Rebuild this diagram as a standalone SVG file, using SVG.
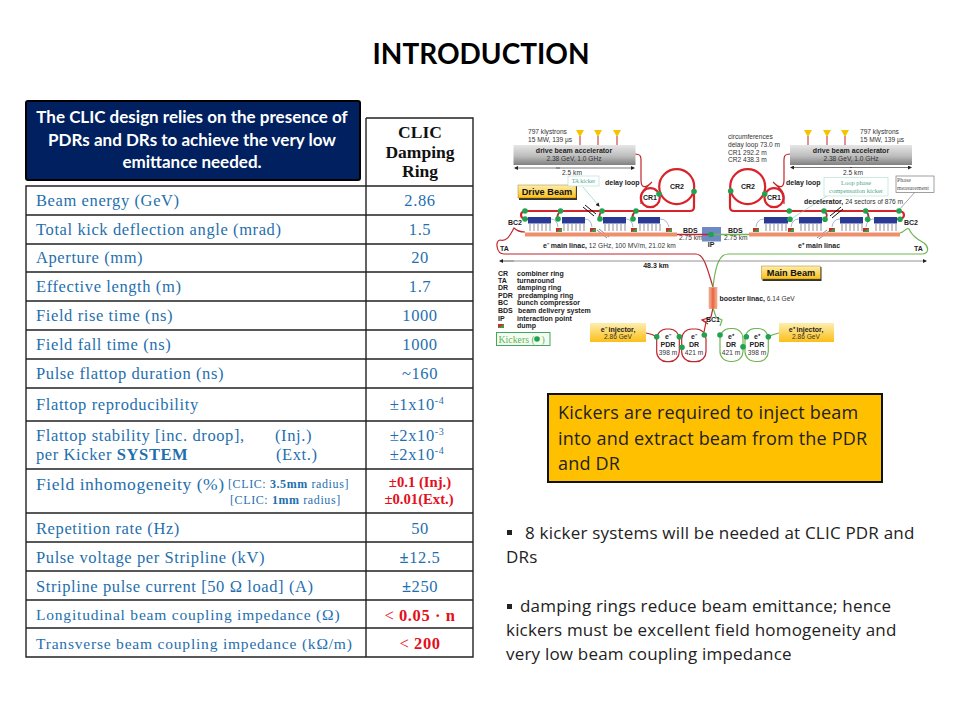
<svg xmlns="http://www.w3.org/2000/svg" width="960" height="720" viewBox="0 0 960 720" style="font-family:'Liberation Sans',Arial,sans-serif">
<style>
.t{font-family:"Liberation Serif","Times New Roman",serif;font-size:16.5px;fill:#1f6fae;letter-spacing:.6px}
.s{font-size:15.5px;letter-spacing:.8px}
.m{font-size:12px;letter-spacing:.6px}
.c{text-anchor:middle}
.r{fill:#e3101c}
.rb{font-size:14.7px;letter-spacing:0;font-weight:bold;fill:#e3101c}
.g{stroke:#222;stroke-width:1.4;fill:none}
.o{font-family:"Open Sans",sans-serif;font-size:17px;letter-spacing:.2px;fill:#222}
.ob{font-size:18px;letter-spacing:.2px}
.d{font-size:6.6px;fill:#333}
.db{font-size:7px;font-weight:bold;fill:#222}
.rl{fill:none;stroke:#c0272d;stroke-width:1.2}
.rt{fill:none;stroke:#d8232a;stroke-width:2.2}
.gl{fill:none;stroke:#6fb552;stroke-width:1.2}
.k{fill:#1fa34f}
.bl{fill:#2a3a94}
.bar{fill:#f08f6e}
.dr{fill:#cf2a27}
.dg{fill:#3f9a4a}
.ar{stroke:#222;stroke-width:.6;fill:none;marker-end:url(#a)}
.tk{stroke:#222;stroke-width:.5;fill:none}
.th{stroke:#5a6ab0;stroke-width:.5;fill:none}
.sl{stroke:#111;stroke-width:1}
.an{fill:#f5c400}
.st{stroke:#c0272d;stroke-width:1}
.lab{font-family:Lato,sans-serif;font-weight:bold}
.se{font-family:"Liberation Serif",serif}
</style>
<defs>
<marker id="a" markerWidth="4" markerHeight="4" refX="3" refY="2" orient="auto" markerUnits="userSpaceOnUse"><path d="M0 0L4 2L0 4Z" fill="#222"/></marker>
<linearGradient id="gr" x1="0" y1="0" x2="0" y2="1"><stop offset="0" stop-color="#e6e6e6"/><stop offset=".55" stop-color="#bdbdbd"/><stop offset="1" stop-color="#808080"/></linearGradient>
<linearGradient id="ye" x1="0" y1="0" x2="0" y2="1"><stop offset="0" stop-color="#fdeeb0"/><stop offset="1" stop-color="#fbbf17"/></linearGradient>
<linearGradient id="bo" x1="0" y1="0" x2="1" y2="0"><stop offset="0" stop-color="#f7b9a0"/><stop offset=".5" stop-color="#e8633f"/><stop offset="1" stop-color="#f7b9a0"/></linearGradient>
</defs>
<rect width="960" height="720" fill="#fff"/>
<text id="title" class="lab" x="481" y="64" text-anchor="middle" font-size="28" fill="#000">INTRODUCTION</text>

<g id="table">
<path class="g" d="M366 118H473V657H26V186H473M366 118V657M26 215H473M26 244H473M26 272H473M26 301H473M26 330H473M26 359H473M26 388H473M26 421H473M26 469H473M26 513H473M26 542H473M26 571H473M26 600H473M26 628H473"/>
<g class="se" font-weight="bold" font-size="17.500" fill="#111" text-anchor="middle">
<text x="420" y="138">CLIC</text><text x="420" y="158">Damping</text><text x="420" y="177">Ring</text></g>
<text class="t" x="36" y="206">Beam energy (GeV)</text><text class="t c" x="420" y="206">2.86</text>
<text class="t" x="36" y="235">Total kick deflection angle (mrad)</text><text class="t c" x="420" y="235">1.5</text>
<text class="t" x="36" y="263">Aperture (mm)</text><text class="t c" x="420" y="263">20</text>
<text class="t" x="36" y="292">Effective length (m)</text><text class="t c" x="420" y="292">1.7</text>
<text class="t" x="36" y="321">Field rise time (ns)</text><text class="t c" x="420" y="321">1000</text>
<text class="t" x="36" y="350">Field fall time (ns)</text><text class="t c" x="420" y="350">1000</text>
<text class="t" x="36" y="379">Pulse flattop duration (ns)</text><text class="t c" x="420" y="379">~160</text>
<text class="t" x="36" y="410">Flattop reproducibility</text>
<text class="t c" x="417" y="410">±1x10<tspan font-size="10" dy="-6">-4</tspan></text>
<text class="t" x="36" y="441">Flattop stability [inc. droop],</text><text class="t" x="275" y="441">(Inj.)</text>
<text class="t" x="36" y="460">per Kicker <tspan font-weight="bold">SYSTEM</tspan></text><text class="t" x="276" y="460">(Ext.)</text>
<text class="t c" x="417" y="441">±2x10<tspan font-size="10" dy="-6">-3</tspan></text>
<text class="t c" x="417" y="460">±2x10<tspan font-size="10" dy="-6">-4</tspan></text>
<text class="t" x="36" y="490" style="font-size:17.500px;letter-spacing:.55px">Field inhomogeneity (%)</text>
<text class="t m" x="228" y="488">[CLIC: <tspan font-weight="bold">3.5mm</tspan> radius]</text>
<text class="t m" x="230" y="504">[CLIC: <tspan font-weight="bold">1mm</tspan> radius]</text>
<text class="se c rb" x="420" y="487">±0.1 (Inj.)</text>
<text class="se c rb" x="419" y="504">±0.01(Ext.)</text>
<text class="t" x="36" y="534">Repetition rate (Hz)</text><text class="t c" x="420" y="534">50</text>
<text class="t" x="36" y="563">Pulse voltage per Stripline (kV)</text><text class="t c" x="420" y="563"><tspan font-weight="bold">±</tspan>12.5</text>
<text class="t" x="36" y="592">Stripline pulse current [50 Ω load] (A)</text><text class="t c" x="420" y="592"><tspan font-weight="bold">±</tspan>250</text>
<text class="t s" x="36" y="620">Longitudinal beam coupling impedance (Ω)</text>
<text class="t c r" x="420" y="621">&lt; <tspan font-weight="bold">0.05 · n</tspan></text>
<text class="t s" x="36" y="649">Transverse beam coupling impedance (kΩ/m)</text>
<text class="t c r" x="420" y="649">&lt; <tspan font-weight="bold">200</tspan></text>
</g>

<g id="callout">
<rect x="26" y="101" width="334" height="79" rx="2" fill="#002060" stroke="#000" stroke-width="2"/>
<g class="lab" font-size="17" fill="#fff" text-anchor="middle">
<text x="192" y="123">The CLIC design relies on the presence of</text>
<text x="192" y="146">PDRs and DRs to achieve the very low</text>
<text x="192" y="168">emittance needed.</text></g>
</g>

<g id="connectors">
<path class="rl" d="M635 154C642 154 641 158 641 165V180C641 188 645 189 652 182C645 189 641 191 641 197V204"/>
<path class="rl" d="M790 154C783 154 784 158 784 165V180C784 188 780 189 773 182C780 189 784 191 784 197V204"/>
<path class="rt" d="M694 192V207Q694 211 690 211H527Q521 211 521 215Q521 219 527 219H533"/>
<path class="rt" d="M730 192V207Q730 211 734 211H897Q904 211 904 215Q904 219 898 219H892"/>
<path class="rl" style="stroke-width:1.800" d="M560.500 211Q556 215 558 219M602 211Q598 215 600 219M636 211Q631 215 633 219M824 211Q829 215 825 219M865.700 211Q870 215 867.700 219"/>
<path class="th" d="M551 219Q557 219 558 227M585 219Q591 219 592 227M626 219Q632 219 633 227M660 219Q667 219 669 227M764 219Q757 219 756 227M799 219Q792 219 791 227M840 219Q833 219 832 227M874 219Q867 219 866 227"/>
<path class="rl" d="M525 232C518 232 516 230 514 228C511 233 508 242 500 240C495 240 496 254 504 254H696C704 254 707 268 713 287"/>
<path class="gl" d="M900 233C905 232 906 227 909 229C912 236 918 240 924 243C930 248 928 254 922 254H728C718 254 715 270 713 287"/>
<path class="rl" d="M713 308L711 317L702 320L708 324"/>
<path class="gl" d="M713 308L716 317L722 320L720 326"/>
<path class="rl" d="M702 320L706 322L704 332"/>
<path d="M500 261H926" stroke="#777" stroke-width=".8" marker-end="url(#a)"/>
<path d="M514 261H500" stroke="#777" stroke-width=".8" marker-end="url(#a)"/>
<path class="ar" d="M583 187L599 206" style="stroke:#7cc6b0"/>
<path class="ar" d="M556 168H634"/><path class="ar" d="M560 168H515"/>
<path class="ar" d="M850 167.500H911"/><path class="ar" d="M852 167.500H791"/>
<path d="M791 219L830 194" stroke="#7cc6b0" stroke-width=".6"/>
<path d="M899 210L915 192" stroke="#666" stroke-width=".6"/>
<path class="sl" d="M583 207L594 216M585 205L596 214M830 216L841 207M832 218L843 209"/>
<path class="sl" style="stroke-width:.5" d="M597 230L607 238M599 229L609 237M817 238L827 230M819 239L829 231"/>
<path class="rl" d="M646 333C652 334 654 335 657 337"/>
<path class="gl" d="M779 333C775 334 771 335 768 337"/>
</g>

<g id="drive-left">
<rect x="513.500" y="145" width="122" height="20" fill="url(#gr)"/>
<path class="st" d="M580 136V145M598 136V145M617 136V145"/>
<path class="an" d="M576 130H584L580 137ZM594 130H602L598 137ZM613 130H621L617 137Z"/>
<text class="d" x="528" y="134">797 klystrons</text><text class="d" x="528" y="142">15 MW, 139 µs</text>
<text class="db c" x="574" y="153">drive beam accelerator</text><text class="d c" x="574" y="161">2.38 GeV, 1.0 GHz</text>
<text class="d c" x="572" y="175">2.5 km</text>
<text class="db" x="605" y="185">delay loop</text>
<circle class="rt" cx="676.700" cy="186.700" r="17.500"/><circle class="rt" cx="650.300" cy="197.700" r="9.500"/>
<text class="db c" x="677" y="189">CR2</text><text class="db c" x="650" y="200">CR1</text>
<rect x="519" y="186" width="58" height="14" fill="#333"/><rect x="518" y="185" width="58" height="13" fill="url(#ye)" stroke="#8a6d10" stroke-width=".4"/>
<text x="547" y="195" text-anchor="middle" font-size="9.200" font-weight="bold" fill="#111">Drive Beam</text>
<rect x="568" y="176" width="31" height="10" fill="#fff" stroke="#a8dccb" stroke-width=".6"/>
<text class="se" x="583.500" y="183" text-anchor="middle" font-size="6" fill="#4fa88c">TA kicker</text>
<path class="bl" d="M528 217h23v6.500h-23zM562 217h23v6.500h-23zM603 217h23v6.500h-23zM638 217h22v6.500h-22z"/>
<path class="tk" d="M530 224v7M534 224v7M538 224v7M542 224v7M546 224v7M550 224v7M564 224v7M568 224v7M572 224v7M576 224v7M580 224v7M584 224v7M605 224v7M609 224v7M613 224v7M617 224v7M621 224v7M625 224v7M640 224v7M644 224v7M648 224v7M652 224v7M656 224v7M660 224v7"/>
<path class="dr" d="M556 228h6v4h-6zM590 228h6v4h-6zM631 228h6v4h-6zM666 228h6v4h-6z"/>
<path class="dg" d="M562 228v4h-6zM596 228v4h-6zM637 228v4h-6zM672 228v4h-6z"/>
<rect class="bar" x="525" y="232.500" width="152" height="4"/>
<g class="k"><circle cx="525" cy="211" r="2.800"/><circle cx="525" cy="219" r="2.800"/><circle cx="560.500" cy="211" r="2.800"/><circle cx="558" cy="219" r="2.800"/><circle cx="602" cy="211" r="2.800"/><circle cx="600" cy="219" r="2.800"/><circle cx="636" cy="211" r="2.800"/><circle cx="633" cy="219" r="2.800"/><circle cx="659" cy="194" r="2.800"/><circle cx="694" cy="191.500" r="2.800"/></g>
<text class="db" x="508" y="225">BC2</text><text class="db" x="683" y="233">BDS</text><text class="d" x="679" y="240">2.75 km</text>
</g>

<g id="ip">
<rect x="702" y="227" width="19" height="14.500" fill="#6f89c4"/>
<path d="M677 234.500H711" stroke="#c0272d" stroke-width="1.500"/><path d="M711 234.500H749" stroke="#6fb552" stroke-width="1.500"/>
<circle class="k" cx="711" cy="234.500" r="2.800"/>
<text class="db c" x="711" y="247">IP</text>
</g>

<g id="drive-right">
<rect x="790" y="145" width="122" height="20" fill="url(#gr)"/>
<path class="st" d="M808 136V145M827 136V145M845 136V145"/>
<path class="an" d="M804 130H812L808 137ZM823 130H831L827 137ZM841 130H849L845 137Z"/>
<text class="d" x="860" y="134">797 klystrons</text><text class="d" x="860" y="142">15 MW, 139 µs</text>
<text class="d" x="728" y="139">circumferences</text><text class="d" x="728" y="147">delay loop 73.0 m</text><text class="d" x="728" y="154.500">CR1 292.2 m</text><text class="d" x="728" y="162">CR2 438.3 m</text>
<text class="db c" x="851" y="153">drive beam accelerator</text><text class="d c" x="851" y="161">2.38 GeV, 1.0 GHz</text>
<text class="d c" x="853" y="175">2.5 km</text>
<text class="db" x="786" y="184.500">delay loop</text>
<circle class="rt" cx="747.700" cy="186.700" r="17.500"/><circle class="rt" cx="774" cy="197.700" r="9.500"/>
<text class="db c" x="748" y="189">CR2</text><text class="db c" x="774" y="200">CR1</text>
<rect x="824" y="177.500" width="64" height="18.500" fill="#fff" stroke="#a8dccb" stroke-width=".6"/>
<g class="se" text-anchor="middle" font-size="6.500" fill="#4fa88c"><text x="856" y="185">Loop phase</text><text x="856" y="193">compensation kicker</text></g>
<rect x="896" y="176" width="38" height="16.500" fill="#fff" stroke="#777" stroke-width=".7"/>
<g class="se" font-size="6" fill="#555"><text x="897" y="182">Phase</text><text x="897" y="190">measurement</text></g>
<text class="d" x="804" y="203.500"><tspan class="db">decelerator,</tspan> 24 sectors of 876 m</text>
<path class="bl" d="M764 217h24v6.500h-24zM799 217h23v6.500h-23zM840 217h23v6.500h-23zM874 217h23v6.500h-23z"/>
<path class="tk" d="M766 224v7M770 224v7M774 224v7M778 224v7M782 224v7M786 224v7M801 224v7M805 224v7M809 224v7M813 224v7M817 224v7M821 224v7M842 224v7M846 224v7M850 224v7M854 224v7M858 224v7M862 224v7M876 224v7M880 224v7M884 224v7M888 224v7M892 224v7M896 224v7"/>
<path class="dr" d="M753 228h6v4h-6zM788 228h6v4h-6zM829 228h6v4h-6zM863 228h6v4h-6z"/>
<path class="dg" d="M759 228v4h-6zM794 228v4h-6zM835 228v4h-6zM869 228v4h-6z"/>
<rect class="bar" x="749" y="232.500" width="151" height="4"/>
<g class="k"><circle cx="730.700" cy="191" r="2.800"/><circle cx="764.700" cy="194" r="2.800"/><circle cx="789.300" cy="211" r="2.800"/><circle cx="790" cy="219.300" r="2.800"/><circle cx="824" cy="211" r="2.800"/><circle cx="825" cy="219.300" r="2.800"/><circle cx="865.700" cy="211" r="2.800"/><circle cx="867.700" cy="219.300" r="2.800"/><circle cx="899" cy="211" r="2.800"/><circle cx="900" cy="219.300" r="2.800"/></g>
<text class="db" x="904" y="225">BC2</text><text class="db" x="728" y="233">BDS</text><text class="d" x="724" y="240">2.75 km</text>
</g>

<g id="main-beam">
<text class="db" x="500" y="250.500">TA</text><text class="db" x="914" y="250.500">TA</text>
<text class="d" x="543" y="248"><tspan class="db">e⁻ main linac,</tspan> 12 GHz, 100 MV/m, 21.02 km</text>
<text class="db" x="798" y="248">e⁺ main linac</text>
<text class="db c" x="656" y="268">48.3 km</text>
<rect x="762.500" y="267" width="59" height="14" fill="#333"/><rect x="761.500" y="266" width="59" height="13" fill="url(#ye)" stroke="#8a6d10" stroke-width=".4"/>
<text x="791" y="276" text-anchor="middle" font-size="9.200" font-weight="bold" fill="#111">Main Beam</text>
<rect x="709" y="287.500" width="8" height="21" fill="url(#bo)" stroke="#d9764f" stroke-width=".4"/>
<text class="d" x="719.500" y="301"><tspan class="db">booster linac,</tspan> 6.14 GeV</text>
<text class="db c" x="713" y="322">BC1</text>
<rect x="590" y="323" width="56" height="19" fill="url(#ye)"/>
<text class="db c" x="618" y="331.500">e⁻ injector,</text><text class="d c" x="618" y="339">2.86 GeV</text>
<rect x="779" y="323" width="55" height="19" fill="url(#ye)"/>
<text class="db c" x="806" y="331.500">e⁺ injector,</text><text class="d c" x="806" y="339">2.86 GeV</text>
<rect class="rl" x="656.700" y="329" width="22.600" height="32.700" rx="10"/>
<rect class="rl" x="681.700" y="329" width="24.300" height="32.700" rx="10"/>
<rect class="gl" x="720" y="328.500" width="23" height="33" rx="10"/>
<rect class="gl" x="745" y="328.500" width="23.300" height="33" rx="10"/>
<g text-anchor="middle">
<text class="db" x="668" y="339">e⁻</text><text class="db" x="668" y="347">PDR</text><text class="d" x="668" y="355">398 m</text>
<text class="db" x="694" y="339">e⁻</text><text class="db" x="694" y="347">DR</text><text class="d" x="694" y="355">421 m</text>
<text class="db" x="731" y="339">e⁺</text><text class="db" x="731" y="347">DR</text><text class="d" x="731" y="355">421 m</text>
<text class="db" x="757" y="339">e⁺</text><text class="db" x="757" y="347">PDR</text><text class="d" x="757" y="355">398 m</text>
</g>
<g class="k"><circle cx="656.700" cy="336.700" r="2.800"/><circle cx="679.300" cy="336.700" r="2.800"/><circle cx="682" cy="347.300" r="2.800"/><circle cx="704.300" cy="335" r="2.800"/><circle cx="720" cy="335" r="2.800"/><circle cx="746.300" cy="336.700" r="2.800"/><circle cx="743" cy="346.700" r="2.800"/><circle cx="768.300" cy="336.700" r="2.800"/></g>
</g>

<g id="legend">
<g class="db"><text x="498" y="275.500">CR</text><text x="498" y="283">TA</text><text x="498" y="290">DR</text><text x="498" y="297.500">PDR</text><text x="498" y="305">BC</text><text x="498" y="313">BDS</text><text x="498" y="320.500">IP</text>
<text x="517" y="275.500">combiner ring</text><text x="517" y="283">turnaround</text><text x="517" y="290">damping ring</text><text x="518" y="297.500">predamping ring</text><text x="517" y="305">bunch compressor</text><text x="518" y="313">beam delivery system</text><text x="517" y="320.500">interaction point</text><text x="517" y="328">dump</text></g>
<rect class="dr" x="498" y="324" width="6" height="4"/><path class="dg" d="M504 324v4h-6z"/>
<rect x="496.500" y="332.500" width="53.500" height="13" fill="#f6fbf2" stroke="#3fa862" stroke-width="1"/>
<g class="se" font-size="9.800" fill="#5cb85c"><text x="498.500" y="342.500">Kickers (</text><text x="541.500" y="342.500">)</text></g>
<circle class="k" cx="537" cy="339" r="2.800"/>
</g>

<g id="kicker-note">
<rect x="548" y="394" width="334" height="88" fill="#ffc000" stroke="#111" stroke-width="2"/>
<text class="o ob" x="558" y="419">Kickers are required to inject beam</text>
<text class="o ob" x="558" y="445">into and extract beam from the PDR</text>
<text class="o ob" x="558" y="470">and DR</text>
</g>

<g id="bullets">
<rect x="507" y="530" width="5" height="5" fill="#222"/>
<text class="o" x="525" y="539">8 kicker systems will be needed at CLIC PDR and</text>
<text class="o" x="506" y="563">DRs</text>
<rect x="507" y="604" width="5" height="5" fill="#222"/>
<text class="o" x="520" y="612">damping rings reduce beam emittance; hence</text>
<text class="o" x="506" y="636">kickers must be excellent field homogeneity and</text>
<text class="o" x="506" y="660">very low beam coupling impedance</text>
</g>
</svg>
